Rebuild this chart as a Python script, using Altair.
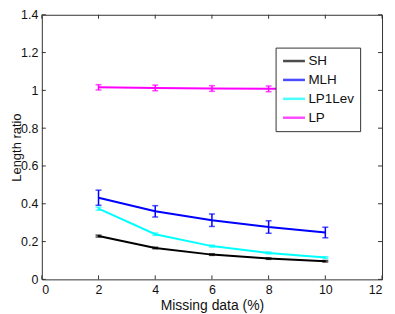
import altair as alt
import pandas as pd

missing = [2, 4, 6, 8, 10]
series = ["SH", "MLH", "LP1Lev", "LP"]
colors = ["#000000", "#0000ff", "#00ffff", "#ff00ff"]

sh = [0.229, 0.166, 0.131, 0.110, 0.096]
sh_err = [0.005, 0.004, 0.004, 0.004, 0.004]
mlh = [0.432, 0.360, 0.313, 0.277, 0.248]
mlh_err = [0.040, 0.030, 0.033, 0.033, 0.028]
lp1 = [0.374, 0.239, 0.176, 0.140, 0.116]
lp1_err = [0.008, 0.006, 0.005, 0.005, 0.004]
lp = [1.016, 1.013, 1.010, 1.008, 1.008]
lp_err = [0.014, 0.015, 0.015, 0.015, 0.012]

x_ticks = [0, 2, 4, 6, 8, 10, 12]
y_ticks = [0, 0.2, 0.4, 0.6, 0.8, 1.0, 1.2, 1.4]

W, H = 342, 266
FONT = "Liberation Sans"

rows = []
for name, vals, errs in [("SH", sh, sh_err), ("MLH", mlh, mlh_err),
                         ("LP1Lev", lp1, lp1_err), ("LP", lp, lp_err)]:
    for m, v, e in zip(missing, vals, errs):
        rows.append({"x": m, "y": v, "lo": v - e, "hi": v + e, "s": name})
df = pd.DataFrame(rows)

xs = alt.Scale(domain=[0, 12], nice=False, zero=False)
ys = alt.Scale(domain=[0, 1.4], nice=False, zero=False)
cs = alt.Scale(domain=series, range=colors)

xax = alt.Axis(values=x_ticks, ticks=False, domain=False, grid=False,
               labelPadding=4, labelOverlap=False,
               title="Missing data (%)", titlePadding=3)
yax = alt.Axis(values=y_ticks, ticks=False, domain=False, grid=False,
               labelPadding=4, labelOverlap=False,
               title="Length ratio", titleX=-25, titleBaseline="middle",
               titleFontSize=13,
               labelExpr="datum.value == 1 ? '1' : datum.value == 0 ? '0' : format(datum.value, '.1f')")

leg = alt.Legend(orient="none", legendX=235, legendY=33,
                 symbolType="stroke", symbolStrokeWidth=2.5,
                 symbolSize=484, clipHeight=15, labelFontSize=13.5,
                 fillColor="white", strokeColor="#333",
                 padding=6, rowPadding=4, labelOffset=2)

base = alt.Chart(df)
col = alt.Color("s:N", scale=cs, sort=series, title=None, legend=leg)
X = alt.X("x:Q", scale=xs, axis=xax)

lines = base.mark_line(strokeWidth=2).encode(
    x=X,
    y=alt.Y("y:Q", scale=ys, axis=yax),
    color=col,
    detail="s:N",
)

err = base.mark_rule(strokeWidth=1.5).encode(
    x=X, y=alt.Y("lo:Q", scale=ys, axis=yax), y2="hi:Q", color=col)
cap_lo = base.mark_tick(orient="horizontal", size=6, thickness=1.5).encode(
    x=X, y=alt.Y("lo:Q", scale=ys, axis=yax), color=col)
cap_hi = base.mark_tick(orient="horizontal", size=6, thickness=1.5).encode(
    x=X, y=alt.Y("hi:Q", scale=ys, axis=yax), color=col)

xt = pd.DataFrame({"t": x_ticks})
yt = pd.DataFrame({"t": y_ticks})
TX = alt.X("t:Q", scale=xs, axis=xax)
TY = alt.Y("t:Q", scale=ys, axis=yax)
tb = alt.Chart(xt).mark_rule(color="#333", strokeWidth=1).encode(
    x=TX, y=alt.value(H), y2=alt.value(H - 4))
tt = alt.Chart(xt).mark_rule(color="#333", strokeWidth=1).encode(
    x=TX, y=alt.value(0), y2=alt.value(4))
tl = alt.Chart(yt).mark_rule(color="#333", strokeWidth=1).encode(
    y=TY, x=alt.value(0), x2=alt.value(4))
tr = alt.Chart(yt).mark_rule(color="#333", strokeWidth=1).encode(
    y=TY, x=alt.value(W), x2=alt.value(W - 4))

chart = alt.layer(lines, err, cap_lo, cap_hi, tb, tt, tl, tr).properties(
    width=W, height=H,
    autosize=alt.AutoSizeParams(type="none"),
    padding={"left": 34, "top": 6, "right": 5, "bottom": 34},
    background="white",
).configure_view(stroke="#333", strokeWidth=1).configure_axis(
    labelFont=FONT, titleFont=FONT, labelFontSize=12.5, titleFontSize=14,
    labelColor="#111", titleColor="#111", titleFontWeight="normal",
).configure_legend(labelFont=FONT, labelColor="#111")

chart.save("out.html", embed_options={"renderer": "svg", "actions": False})
